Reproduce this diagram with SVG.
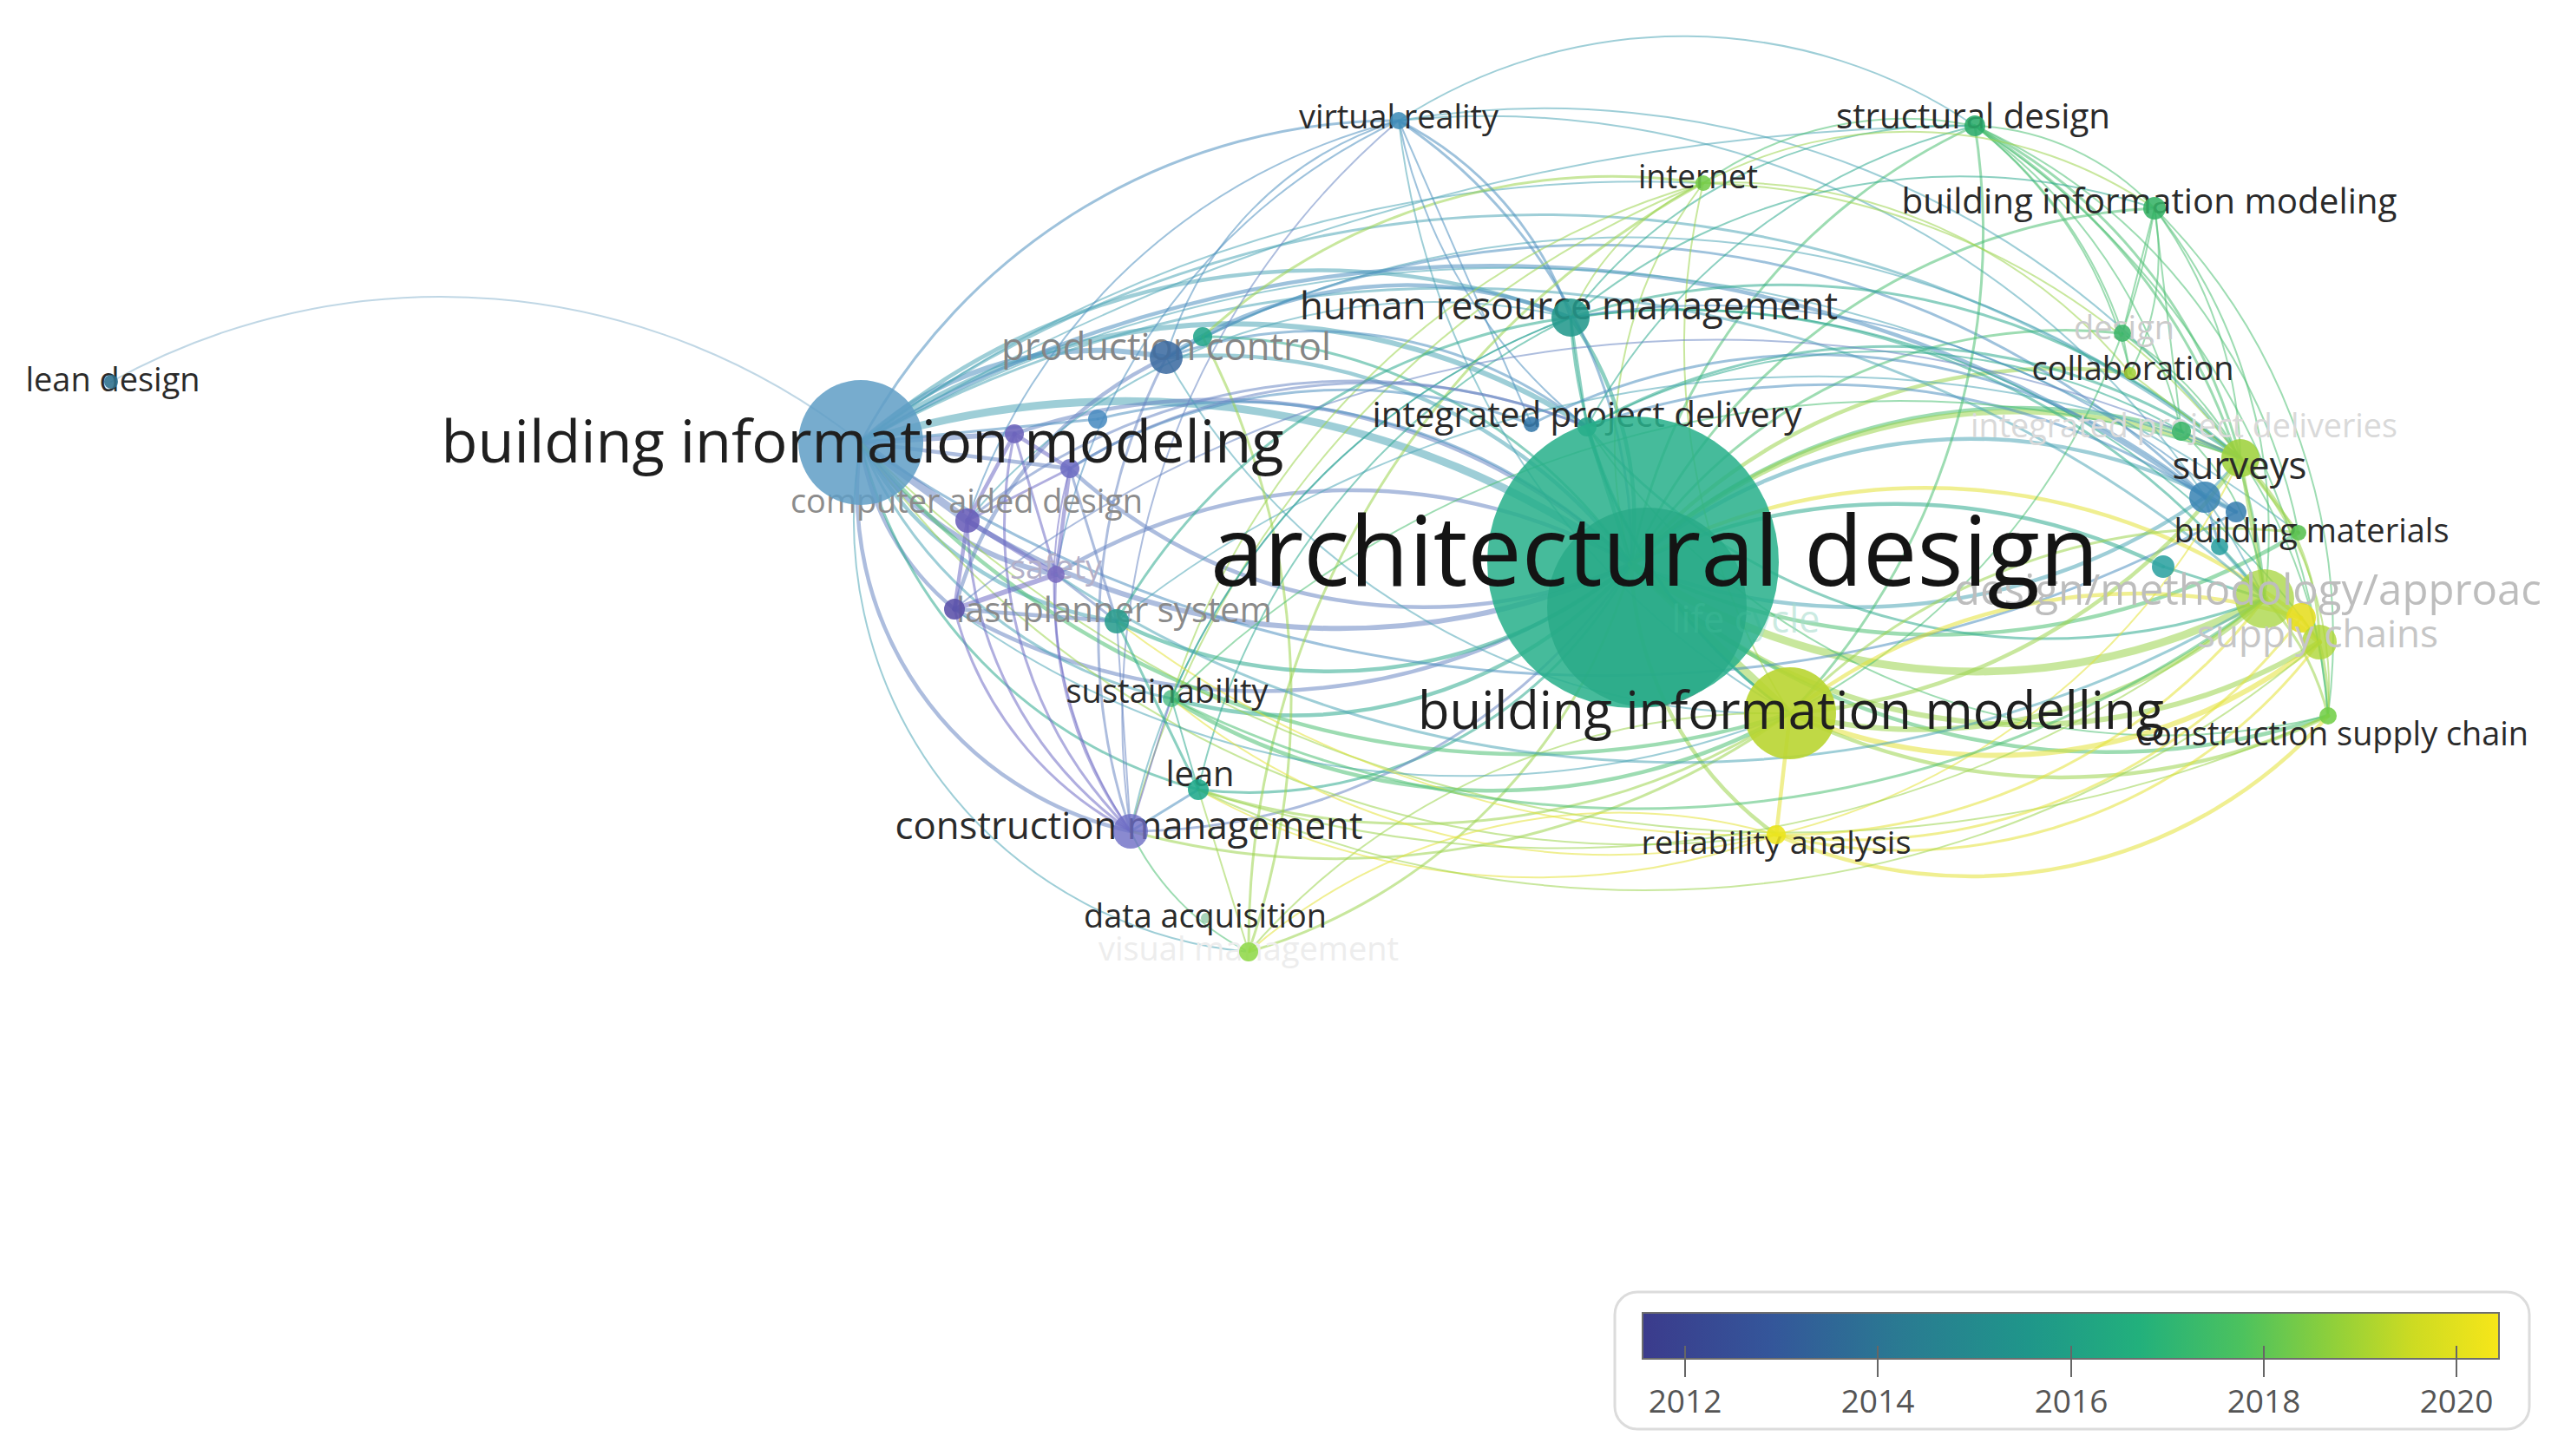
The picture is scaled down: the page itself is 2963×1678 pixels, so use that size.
<svg xmlns="http://www.w3.org/2000/svg" width="2963" height="1678" viewBox="0 0 2963 1678">
<defs>
<style>
.e{fill:none;stroke-linecap:round;stroke-opacity:.55}
.cb{stroke:#4f8fc0}.cbl{stroke:#8db7cf}.cp{stroke:#6f6cc4}.cpb{stroke:#6a86c2}.cs{stroke:#4ea6b6}.ct{stroke:#2eaa8e}.cg{stroke:#4cc072}.cl{stroke:#9ad44c}.cy{stroke:#e4e236}
.w1{stroke-width:2}.w2{stroke-width:3}.w3{stroke-width:4.5}.w4{stroke-width:6}.w5{stroke-width:9}
.t{font-family:"Open Sans","Liberation Sans",sans-serif;text-anchor:middle}
.dk{fill:#2a2a2a}.gr{fill:#858585}
.n{fill-opacity:.88}
.yr{font-family:"Open Sans","Liberation Sans",sans-serif;text-anchor:middle;font-size:37px;fill:#555}
.tk{stroke:#666;stroke-width:2}
</style>
<linearGradient id="viridis" x1="0" y1="0" x2="1" y2="0">
<stop offset="0" stop-color="#3b3b8c"/><stop offset="0.15" stop-color="#34569a"/><stop offset="0.3" stop-color="#2a7a92"/><stop offset="0.45" stop-color="#1f968a"/><stop offset="0.58" stop-color="#22b07c"/><stop offset="0.7" stop-color="#4cc25e"/><stop offset="0.8" stop-color="#8ccf3c"/><stop offset="0.9" stop-color="#cddb22"/><stop offset="1" stop-color="#f7e619"/>
</linearGradient>
<clipPath id="clipR"><rect x="0" y="0" width="2932" height="1678"/></clipPath>
</defs>
<rect x="0" y="0" width="2963" height="1678" fill="#fff"/>
<g id="connectors">
<path class="e cs w5" d="M992 510A1000 1000 0 0 1 1880 650"/>
<path class="e cs w3" d="M1344 412A600 600 0 0 1 1880 650"/>
<path class="e cpb w4" d="M1880 650A800 800 0 0 1 1115 600"/>
<path class="e cpb w3" d="M1880 650A700 700 0 0 1 1100 702"/>
<path class="e cpb w3" d="M1217 662A650 650 0 0 1 1880 650"/>
<path class="e cpb w3" d="M1169 500A700 700 0 0 1 1880 650"/>
<path class="e cpb w3" d="M1880 650A600 600 0 0 1 1233 540"/>
<path class="e cb w2" d="M1265 483A650 650 0 0 1 1880 650"/>
<path class="e ct w3" d="M1880 650A550 550 0 0 1 1287 716"/>
<path class="e ct w3" d="M1880 650A520 520 0 0 1 1350 805"/>
<path class="e ct w2" d="M1880 650A500 500 0 0 1 1381 910"/>
<path class="e cpb w2" d="M1880 650A700 700 0 0 1 1303 958"/>
<path class="e cl w2" d="M1880 650A650 650 0 0 1 1439 1097"/>
<path class="e ct w3" d="M1810 366A400 400 0 0 1 1880 650"/>
<path class="e cb w2" d="M1612 139A600 600 0 0 1 1880 650"/>
<path class="e cg w2" d="M1880 650A700 700 0 0 1 2276 145"/>
<path class="e cl w1" d="M1880 650A500 500 0 0 1 1963 211"/>
<path class="e cg w2" d="M1880 650A700 700 0 0 1 2483 240"/>
<path class="e cg w2" d="M1880 650A600 600 0 0 1 2446 384"/>
<path class="e cl w3" d="M1880 650A650 650 0 0 1 2455 430"/>
<path class="e ct w3" d="M1829 492L1880 650"/>
<path class="e cg w3" d="M1880 650A650 650 0 0 1 2514 497"/>
<path class="e cl w4" d="M1880 650A650 650 0 0 1 2582 528"/>
<path class="e cs w3" d="M1880 650A700 700 0 0 0 2541 573"/>
<path class="e cs w3" d="M1880 650A600 600 0 0 1 2577 590"/>
<path class="e cg w3" d="M1880 650A800 800 0 0 0 2649 614"/>
<path class="e ct w3" d="M1880 650A700 700 0 0 1 2493 653"/>
<path class="e cl w5" d="M1880 650A700 700 0 0 0 2610 690"/>
<path class="e cy w3" d="M1880 650A700 700 0 0 1 2652 712"/>
<path class="e cl w4" d="M1880 650A650 650 0 0 0 2673 740"/>
<path class="e cg w3" d="M1880 650A800 800 0 0 0 2683 825"/>
<path class="e cl w3" d="M1880 650A400 400 0 0 0 2047 962"/>
<path class="e cl w5" d="M1880 650L2063 822"/>
<path class="e cbl w1" d="M128 440A783 783 0 0 1 992 510"/>
<path class="e cb w4" d="M992 510A400 400 0 0 1 1344 412"/>
<path class="e cs w3" d="M992 510A800 800 0 0 1 1810 366"/>
<path class="e cb w2" d="M992 510A700 700 0 0 1 1612 139"/>
<path class="e cs w4" d="M992 510A750 750 0 0 1 1829 492"/>
<path class="e cs w2" d="M992 510A1300 1300 0 0 1 2582 528"/>
<path class="e cb w3" d="M992 510A1400 1400 0 0 1 2541 573"/>
<path class="e cb w2" d="M992 510A1500 1500 0 0 0 2577 590"/>
<path class="e cpb w5" d="M992 510L1115 600"/>
<path class="e cpb w4" d="M992 510L1169 500"/>
<path class="e cpb w3" d="M992 510L1233 540"/>
<path class="e cb w2" d="M992 510L1265 483"/>
<path class="e cpb w4" d="M992 510A350 350 0 0 0 1217 662"/>
<path class="e cpb w3" d="M992 510A300 300 0 0 0 1100 702"/>
<path class="e cs w3" d="M992 510A400 400 0 0 0 1287 716"/>
<path class="e cs w2" d="M992 510A500 500 0 0 0 1350 805"/>
<path class="e ct w2" d="M992 510A550 550 0 0 0 1381 910"/>
<path class="e cpb w3" d="M992 510A400 400 0 0 0 1303 958"/>
<path class="e cs w1" d="M992 510A500 500 0 0 0 1439 1097"/>
<path class="e cl w1" d="M992 510A1100 1100 0 0 0 2047 962"/>
<path class="e cg w3" d="M992 510A1000 1000 0 0 0 2063 822"/>
<path class="e cs w1" d="M992 510A1500 1500 0 0 1 1963 211"/>
<path class="e cs w1" d="M992 510A2500 2500 0 0 1 2276 145"/>
<path class="e cl w1" d="M992 510A1500 1500 0 0 0 2683 825"/>
<path class="e cs w2" d="M992 510A1400 1400 0 0 1 2610 690"/>
<path class="e cs w1" d="M992 510A1500 1500 0 0 1 2649 614"/>
<path class="e cb w3" d="M1344 412A500 500 0 0 1 1810 366"/>
<path class="e cb w1" d="M1344 412A400 400 0 0 1 1612 139"/>
<path class="e cb w2" d="M1344 412A500 500 0 0 1 1829 492"/>
<path class="e cpb w2" d="M1303 958A700 700 0 0 1 1344 412"/>
<path class="e cpb w3" d="M1344 412A450 450 0 0 0 1100 702"/>
<path class="e cs w1" d="M1344 412A1100 1100 0 0 1 2582 528"/>
<path class="e cs w1" d="M1344 412A800 800 0 0 0 2063 822"/>
<path class="e cb w2" d="M1344 412A1000 1000 0 0 1 2541 573"/>
<path class="e ct w2" d="M1386 388A600 600 0 0 1 1880 650"/>
<path class="e cl w2" d="M1439 1097A900 900 0 0 0 1386 388"/>
<path class="e cl w2" d="M1386 388A700 700 0 0 1 1963 211"/>
<path class="e cs w1" d="M1612 139A600 600 0 0 1 2276 145"/>
<path class="e cb w2" d="M1612 139A400 400 0 0 1 1810 366"/>
<path class="e cb w1" d="M1612 139A600 600 0 0 0 1829 492"/>
<path class="e cb w1" d="M1612 139L1765 489"/>
<path class="e cs w1" d="M1612 139A900 900 0 0 0 2063 822"/>
<path class="e cs w1" d="M1612 139A1000 1000 0 0 1 2582 528"/>
<path class="e cb w1" d="M1115 600A700 700 0 0 1 1612 139"/>
<path class="e cpb w1" d="M1303 958A900 900 0 0 1 1612 139"/>
<path class="e cs w1" d="M1612 139A1000 1000 0 0 1 2610 690"/>
<path class="e cb w1" d="M1217 662A700 700 0 0 1 1612 139"/>
<path class="e cg w1" d="M2276 145A300 300 0 0 1 2483 240"/>
<path class="e ct w1" d="M1810 366A550 550 0 0 1 2276 145"/>
<path class="e cg w1" d="M1963 211A400 400 0 0 1 2276 145"/>
<path class="e cg w2" d="M2276 145A600 600 0 0 1 2582 528"/>
<path class="e cg w2" d="M2276 145A700 700 0 0 1 2610 690"/>
<path class="e cg w1" d="M2276 145A900 900 0 0 1 2683 825"/>
<path class="e cg w2" d="M2276 145A800 800 0 0 1 2063 822"/>
<path class="e ct w1" d="M2276 145A700 700 0 0 0 1829 492"/>
<path class="e cg w1" d="M2276 145A650 650 0 0 1 2649 614"/>
<path class="e cg w1" d="M2276 145A500 500 0 0 1 2455 430"/>
<path class="e cg w1" d="M2276 145A500 500 0 0 1 2446 384"/>
<path class="e cg w1" d="M2276 145A600 600 0 0 1 2514 497"/>
<path class="e cl w1" d="M1963 211A300 300 0 0 0 1810 366"/>
<path class="e cl w1" d="M1963 211A500 500 0 0 1 2483 240"/>
<path class="e cl w1" d="M1963 211A800 800 0 0 0 2063 822"/>
<path class="e cl w1" d="M1963 211A800 800 0 0 1 2582 528"/>
<path class="e cl w1" d="M1303 958A1100 1100 0 0 1 1963 211"/>
<path class="e cl w2" d="M1439 1097A1000 1000 0 0 1 1963 211"/>
<path class="e cl w1" d="M1963 211A600 600 0 0 1 2455 430"/>
<path class="e cl w1" d="M1350 805A900 900 0 0 1 1963 211"/>
<path class="e cg w1" d="M2483 240L2446 384"/>
<path class="e cg w1" d="M2483 240A300 300 0 0 1 2455 430"/>
<path class="e cg w1" d="M2483 240A500 500 0 0 1 2582 528"/>
<path class="e cg w1" d="M2483 240A700 700 0 0 1 2683 825"/>
<path class="e ct w1" d="M1810 366A700 700 0 0 1 2483 240"/>
<path class="e cg w1" d="M2483 240A800 800 0 0 1 2063 822"/>
<path class="e cg w1" d="M2483 240A600 600 0 0 1 2610 690"/>
<path class="e cg w1" d="M2483 240L2514 497"/>
<path class="e ct w2" d="M1810 366L1829 492"/>
<path class="e ct w2" d="M1810 366A800 800 0 0 1 2582 528"/>
<path class="e ct w2" d="M1810 366A850 850 0 0 1 2610 690"/>
<path class="e ct w2" d="M1810 366A600 600 0 0 0 2063 822"/>
<path class="e cs w1" d="M1303 958A800 800 0 0 1 1810 366"/>
<path class="e ct w1" d="M1381 910A800 800 0 0 1 1810 366"/>
<path class="e ct w1" d="M1810 366A900 900 0 0 1 2673 740"/>
<path class="e ct w2" d="M1287 716A700 700 0 0 1 1810 366"/>
<path class="e ct w1" d="M1350 805A800 800 0 0 1 1810 366"/>
<path class="e cs w1" d="M1115 600A700 700 0 0 1 1810 366"/>
<path class="e ct w2" d="M1829 492A700 700 0 0 1 2582 528"/>
<path class="e ct w2" d="M1829 492A700 700 0 0 0 2610 690"/>
<path class="e ct w2" d="M1829 492A600 600 0 0 0 2063 822"/>
<path class="e ct w1" d="M1829 492A700 700 0 0 1 2514 497"/>
<path class="e cg w1" d="M1829 492A800 800 0 0 0 2683 825"/>
<path class="e cb w2" d="M1829 492A800 800 0 0 1 2541 573"/>
<path class="e cb w1" d="M1810 366A900 900 0 0 1 2577 590"/>
<path class="e cb w2" d="M1765 489A700 700 0 0 1 2541 573"/>
<path class="e cb w2" d="M1233 540A600 600 0 0 1 1765 489"/>
<path class="e cl w3" d="M2582 528L2610 690"/>
<path class="e cl w2" d="M2582 528A300 300 0 0 1 2673 740"/>
<path class="e cl w2" d="M2582 528L2649 614"/>
<path class="e cl w1" d="M2582 528A400 400 0 0 1 2683 825"/>
<path class="e cy w4" d="M2610 690L2673 740"/>
<path class="e cl w2" d="M2610 690A300 300 0 0 1 2683 825"/>
<path class="e cl w2" d="M2673 740A300 300 0 0 1 2683 825"/>
<path class="e cy w3" d="M2652 712L2673 740"/>
<path class="e cl w1" d="M2455 430L2582 528"/>
<path class="e cg w1" d="M2446 384L2455 430"/>
<path class="e cg w1" d="M2446 384A400 400 0 0 1 2582 528"/>
<path class="e cg w1" d="M2446 384A600 600 0 0 1 2683 825"/>
<path class="e cg w2" d="M2514 497L2582 528"/>
<path class="e cg w1" d="M2514 497A300 300 0 0 1 2610 690"/>
<path class="e cb w3" d="M2541 573L2577 590"/>
<path class="e cs w2" d="M2541 573L2582 528"/>
<path class="e ct w2" d="M2493 653L2610 690"/>
<path class="e cs w2" d="M2558 630L2610 690"/>
<path class="e cb w2" d="M2541 573L2558 630"/>
<path class="e cl w3" d="M2063 822A700 700 0 0 0 2582 528"/>
<path class="e cl w4" d="M2063 822A600 600 0 0 0 2610 690"/>
<path class="e cy w4" d="M2063 822A600 600 0 0 0 2673 740"/>
<path class="e cl w3" d="M2063 822A700 700 0 0 0 2683 825"/>
<path class="e cy w3" d="M2063 822A650 650 0 0 1 2652 712"/>
<path class="e cy w3" d="M2063 822L2047 962"/>
<path class="e cl w2" d="M2063 822A700 700 0 0 1 2649 614"/>
<path class="e cl w2" d="M1303 958A900 900 0 0 0 2063 822"/>
<path class="e cl w2" d="M1381 910A800 800 0 0 0 2063 822"/>
<path class="e cg w3" d="M1350 805A700 700 0 0 0 2063 822"/>
<path class="e cl w1" d="M1439 1097A800 800 0 0 1 2063 822"/>
<path class="e cs w1" d="M1100 702A1000 1000 0 0 0 2063 822"/>
<path class="e cy w2" d="M2047 962A600 600 0 0 0 2673 740"/>
<path class="e cy w3" d="M2047 962A550 550 0 0 0 2683 825"/>
<path class="e cy w2" d="M2047 962A700 700 0 0 0 2610 690"/>
<path class="e cy w1" d="M2047 962A800 800 0 0 0 2582 528"/>
<path class="e cy w2" d="M2047 962A650 650 0 0 0 2652 712"/>
<path class="e cy w1" d="M1439 1097A650 650 0 0 1 2047 962"/>
<path class="e cy w1" d="M1381 910A800 800 0 0 0 2047 962"/>
<path class="e cy w1" d="M1350 805A800 800 0 0 0 2047 962"/>
<path class="e cy w1" d="M1287 716A1200 1200 0 0 0 2047 962"/>
<path class="e cp w3" d="M1115 600L1169 500"/>
<path class="e cp w4" d="M1115 600L1217 662"/>
<path class="e cp w3" d="M1115 600L1100 702"/>
<path class="e cp w4" d="M1217 662L1100 702"/>
<path class="e cp w3" d="M1169 500L1233 540"/>
<path class="e cp w3" d="M1233 540L1217 662"/>
<path class="e cp w2" d="M1169 500L1217 662"/>
<path class="e cp w2" d="M1115 600L1233 540"/>
<path class="e cp w2" d="M1303 958A400 400 0 0 1 1100 702"/>
<path class="e cp w2" d="M1303 958A450 450 0 0 1 1115 600"/>
<path class="e cp w2" d="M1303 958A450 450 0 0 1 1217 662"/>
<path class="e cp w2" d="M1303 958A500 500 0 0 1 1169 500"/>
<path class="e cp w1" d="M1303 958A500 500 0 0 1 1233 540"/>
<path class="e cb w2" d="M1303 958L1381 910"/>
<path class="e cp w1" d="M1303 958L1350 805"/>
<path class="e cpb w1" d="M1303 958L1287 716"/>
<path class="e cg w1" d="M1303 958A300 300 0 0 0 1439 1097"/>
<path class="e cpb w3" d="M1100 702L1287 716"/>
<path class="e cpb w2" d="M1217 662L1287 716"/>
<path class="e cpb w2" d="M1233 540L1287 716"/>
<path class="e cpb w2" d="M1115 600A700 700 0 0 1 1829 492"/>
<path class="e cpb w2" d="M1233 540A650 650 0 0 1 1829 492"/>
<path class="e cpb w1" d="M1100 702A1400 1400 0 0 1 2582 528"/>
<path class="e cs w2" d="M1217 662A1300 1300 0 0 0 2610 690"/>
<path class="e cs w1" d="M1287 716A1300 1300 0 0 1 2582 528"/>
<path class="e cg w2" d="M1350 805A1200 1200 0 0 0 2610 690"/>
<path class="e cl w1" d="M1381 910A1200 1200 0 0 0 2673 740"/>
<path class="e cl w1" d="M1381 910A1300 1300 0 0 0 2610 690"/>
<path class="e cg w1" d="M1350 805A1200 1200 0 0 1 2582 528"/>
<path class="e ct w1" d="M1381 910L1350 805"/>
<path class="e ct w2" d="M1381 910L1287 716"/>
<path class="e cl w1" d="M1381 910L1439 1097"/>
</g>
<g id="nodes">
<g id="node-lean-design"><text class="t dk" x="130" y="451" font-size="38" textLength="201" lengthAdjust="spacingAndGlyphs">lean design</text><circle class="n" cx="128" cy="440" r="8" fill="#2b6e8c"/></g>
<g id="node-virtual-reality"><text class="t dk" x="1612" y="148" font-size="38" textLength="230" lengthAdjust="spacingAndGlyphs">virtual reality</text><circle class="n" cx="1612" cy="139" r="10" fill="#3f8cb8"/></g>
<g id="node-structural-design"><text class="t dk" x="2274" y="148" font-size="40" textLength="316" lengthAdjust="spacingAndGlyphs">structural design</text><circle class="n" cx="2276" cy="145" r="12" fill="#2aab6a"/></g>
<g id="node-internet"><text class="t dk" x="1957" y="217" font-size="38" textLength="138" lengthAdjust="spacingAndGlyphs">internet</text><circle class="n" cx="1963" cy="211" r="9" fill="#74cc4a"/></g>
<g id="node-building-information-modeling-2"><text class="t dk" x="2477" y="246" font-size="40" textLength="571" lengthAdjust="spacingAndGlyphs">building information modeling</text><circle class="n" cx="2483" cy="240" r="13" fill="#35b366"/></g>
<g id="node-design"><text class="t" x="2448" y="391" font-size="38" fill="#cbcbcb" textLength="116" lengthAdjust="spacingAndGlyphs">design</text><circle class="n" cx="2446" cy="384" r="10" fill="#3cb56a"/></g>
<g id="node-collaboration"><text class="t dk" x="2458" y="438" font-size="38" textLength="233" lengthAdjust="spacingAndGlyphs">collaboration</text><circle class="n" cx="2455" cy="430" r="7" fill="#a3d23a" fill-opacity=".6"/></g>
<g id="node-integrated-project-deliveries"><text class="t" x="2517" y="504" font-size="38" fill="#d9d9d9" textLength="492" lengthAdjust="spacingAndGlyphs">integrated project deliveries</text><circle class="n" cx="2514" cy="497" r="11" fill="#3bb569"/></g>
<g id="node-surveys"><circle class="n" cx="2582" cy="528" r="22" fill="#9ed23c"/><text class="t dk" x="2581" y="552" font-size="44" textLength="155" lengthAdjust="spacingAndGlyphs">surveys</text></g>
<g id="node-blue-1"><circle class="n" cx="2541" cy="573" r="18" fill="#3e86b5"/></g>
<g id="node-blue-2"><circle class="n" cx="2577" cy="590" r="12" fill="#3a80b0"/></g>
<g id="node-teal-r2"><circle class="n" cx="2558" cy="630" r="10" fill="#2a9fa0"/></g>
<g id="node-building-materials"><text class="t dk" x="2664" y="625" font-size="38" textLength="317" lengthAdjust="spacingAndGlyphs">building materials</text><circle class="n" cx="2649" cy="614" r="9" fill="#58c050"/></g>
<g id="node-teal-r"><circle class="n" cx="2493" cy="653" r="13" fill="#2ca2a0"/></g>
<g id="node-design-methodology-approach"><circle cx="2610" cy="690" r="34" fill="#a5d43c" fill-opacity=".75"/><text x="2252" y="697" font-family="'Open Sans','Liberation Sans',sans-serif" font-size="49" fill="#bdbdbd" textLength="707" lengthAdjust="spacingAndGlyphs" clip-path="url(#clipR)">design/methodology/approach</text></g>
<g id="node-yellow"><circle class="n" cx="2652" cy="712" r="17" fill="#e6dd20"/></g>
<g id="node-supply-chains"><circle cx="2673" cy="740" r="20" fill="#aed636" fill-opacity=".8"/><text class="t" x="2671" y="746" font-size="44" fill="#c6c6c6" textLength="278" lengthAdjust="spacingAndGlyphs">supply chains</text></g>
<g id="node-construction-supply-chain"><text class="t dk" x="2688" y="859" font-size="38" textLength="452" lengthAdjust="spacingAndGlyphs">construction supply chain</text><circle class="n" cx="2683" cy="825" r="10" fill="#72ce48"/></g>
<g id="node-human-resource-management"><text class="t dk" x="1808" y="368" font-size="44" textLength="620" lengthAdjust="spacingAndGlyphs">human resource management</text><circle class="n" cx="1810" cy="366" r="22" fill="#23998c"/></g>
<g id="node-production-control"><text class="t gr" x="1344" y="415" font-size="44" textLength="380" lengthAdjust="spacingAndGlyphs">production control</text><circle class="n" cx="1344" cy="412" r="19" fill="#3d6ca2"/><circle class="n" cx="1386" cy="388" r="11" fill="#22a58b"/></g>
<g id="node-integrated-project-delivery"><text class="t dk" x="1829" y="492" font-size="40" textLength="495" lengthAdjust="spacingAndGlyphs">integrated project delivery</text><circle class="n" cx="1829" cy="492" r="11" fill="#26a38a"/><circle class="n" cx="1765" cy="489" r="9" fill="#3579aa"/></g>
<g id="node-purple-1"><circle class="n" cx="1169" cy="500" r="11" fill="#6c63bb"/></g>
<g id="node-blue-l"><circle class="n" cx="1265" cy="483" r="11" fill="#4a8cc0"/></g>
<g id="node-purple-2"><circle class="n" cx="1233" cy="540" r="11" fill="#6d6cc3"/></g>
<g id="node-computer-aided-design"><text class="t" x="1114" y="591" font-size="38" fill="#8c8c8c" textLength="406" lengthAdjust="spacingAndGlyphs">computer aided design</text><circle class="n" cx="1115" cy="600" r="14" fill="#6a5fb8"/></g>
<g id="node-safety"><text class="t" x="1217" y="667" font-size="38" fill="#b3b0c8" textLength="106" lengthAdjust="spacingAndGlyphs">safety</text><circle class="n" cx="1217" cy="662" r="10" fill="#7a6cc0"/></g>
<g id="node-last-planner-system"><text class="t" x="1284" y="717" font-size="40" fill="#8a8a8a" textLength="364" lengthAdjust="spacingAndGlyphs">last planner system</text><circle class="n" cx="1100" cy="702" r="12" fill="#5a50a8"/><circle class="n" cx="1287" cy="716" r="14" fill="#2a9d8e"/></g>
<g id="node-sustainability"><text class="t dk" x="1345" y="810" font-size="38" textLength="233" lengthAdjust="spacingAndGlyphs">sustainability</text><circle cx="1350" cy="805" r="10" fill="#30b070" fill-opacity=".7"/></g>
<g id="node-lean"><text class="t dk" x="1383" y="906" font-size="40" textLength="79" lengthAdjust="spacingAndGlyphs">lean</text><circle class="n" cx="1381" cy="910" r="12" fill="#1fa98a"/></g>
<g id="node-construction-management"><text class="t dk" x="1301" y="967" font-size="44" textLength="539" lengthAdjust="spacingAndGlyphs">construction management</text><circle cx="1303" cy="958" r="20" fill="#6d6dc4" fill-opacity=".8"/></g>
<g id="node-data-acquisition"><circle cx="1390" cy="1058" r="6" fill="#6cb88c" fill-opacity=".6"/><text class="t dk" x="1389" y="1069" font-size="38" textLength="280" lengthAdjust="spacingAndGlyphs">data acquisition</text></g>
<g id="node-visual-management"><text class="t" x="1439" y="1107" font-size="38" fill="#ededed" textLength="346" lengthAdjust="spacingAndGlyphs">visual management</text><circle class="n" cx="1439" cy="1097" r="11" fill="#8fd848"/></g>
<g id="node-reliability-analysis"><text class="t dk" x="2047" y="984" font-size="37" textLength="311" lengthAdjust="spacingAndGlyphs">reliability analysis</text><circle class="n" cx="2047" cy="962" r="11" fill="#ece51c"/></g>
<g id="node-building-information-modeling"><circle cx="992" cy="510" r="72" fill="#5f9dc6" fill-opacity=".85"/><text class="t" x="994" y="533" font-size="68" fill="#1f1f1f" textLength="971" lengthAdjust="spacingAndGlyphs">building information modeling</text></g>
<g id="node-life-cycle"><circle cx="1898" cy="700" r="115" fill="#1f7f68" fill-opacity=".75"/><text class="t" x="2012" y="729" font-size="43" fill="#a9ddcd" fill-opacity=".6" textLength="171" lengthAdjust="spacingAndGlyphs">life cycle</text></g>
<g id="node-architectural-design"><circle cx="1882" cy="648" r="168" fill="#28b08b" fill-opacity=".86"/><text class="t" x="1907" y="675" font-size="112" fill="#141414" textLength="1024" lengthAdjust="spacingAndGlyphs">architectural design</text></g>
<g id="node-building-information-modelling"><circle cx="2063" cy="822" r="53" fill="#b9d531" fill-opacity=".9"/><text class="t" x="2064" y="840" font-size="60" fill="#1f1f1f" textLength="860" lengthAdjust="spacingAndGlyphs">building information modelling</text></g>
</g>
<g id="legend">
<rect x="1861" y="1489" width="1054" height="158" rx="26" fill="#fff" stroke="#dcdcdc" stroke-width="3"/>
<rect x="1893" y="1513" width="987" height="53" fill="url(#viridis)" stroke="#6e6e6e" stroke-width="2"/>
<line class="tk" x1="1942" y1="1551" x2="1942" y2="1587"/>
<line class="tk" x1="2164" y1="1551" x2="2164" y2="1587"/>
<line class="tk" x1="2387" y1="1551" x2="2387" y2="1587"/>
<line class="tk" x1="2609" y1="1551" x2="2609" y2="1587"/>
<line class="tk" x1="2831" y1="1551" x2="2831" y2="1587"/>
<text class="yr" x="1942" y="1628">2012</text>
<text class="yr" x="2164" y="1628">2014</text>
<text class="yr" x="2387" y="1628">2016</text>
<text class="yr" x="2609" y="1628">2018</text>
<text class="yr" x="2831" y="1628">2020</text>
</g>
</svg>
